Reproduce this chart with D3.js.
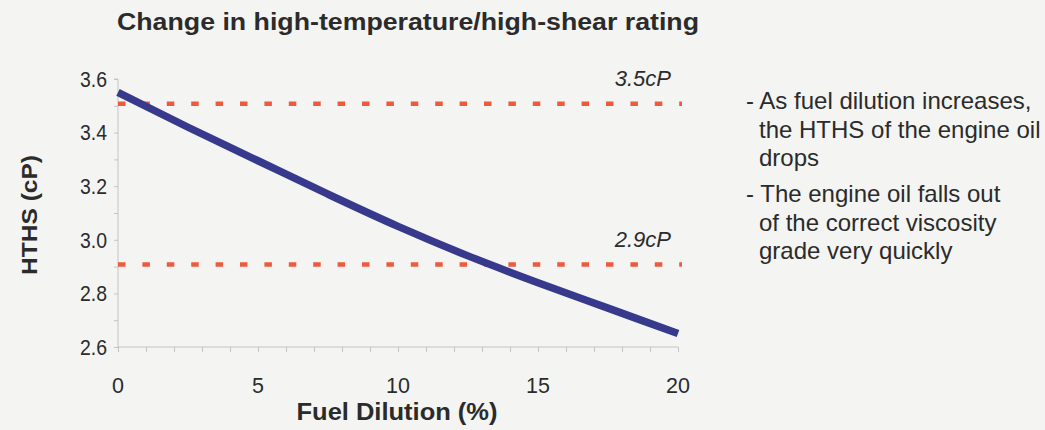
<!DOCTYPE html>
<html>
<head>
<meta charset="utf-8">
<script src="https://cdn.jsdelivr.net/npm/d3@7"></script>
<style>
  html, body { margin: 0; padding: 0; background: #f4f4f2; }
  svg { display: block; }
</style>
</head>
<body>
<svg id="chart" width="1045" height="430"></svg>
<script>
// ---- data ----
const dilution = [0, 2.5, 5, 7.5, 10, 12.5, 15, 17.5, 20];
const hths     = [3.55, 3.42, 3.295, 3.17, 3.05, 2.94, 2.84, 2.745, 2.65];
const limitValues = [3.5, 2.9];
const limitLabels = ["3.5cP", "2.9cP"];
const xTicks = [0, 5, 10, 15, 20];
const yTicks = [2.6, 2.8, 3.0, 3.2, 3.4, 3.6];
const title = "Change in high-temperature/high-shear rating";
const xLabel = "Fuel Dilution (%)";
const yLabel = "HTHS (cP)";
const notes = [
  ["- As fuel dilution increases,", "the HTHS of the engine oil", "drops"],
  ["- The engine oil falls out", "of the correct viscosity", "grade very quickly"]
];

// ---- layout ----
const svg = d3.select("#chart");
const mLeft = 118, mRight = 678, mTop = 79, mBottom = 347;
const x = d3.scaleLinear().domain([0, 20]).range([mLeft, mRight]);
const y = d3.scaleLinear().domain([2.6, 3.6]).range([mBottom, mTop]);
const font = "'Liberation Sans', Arial, Helvetica, sans-serif";
const axisColor = "#c4c4c4";
const textColor = "#2b2b2b";

// title
svg.append("text")
  .attr("x", 117).attr("y", 30)
  .attr("font-family", font).attr("font-weight", "bold").attr("font-size", 23.5)
  .attr("fill", textColor)
  .attr("textLength", 582).attr("lengthAdjust", "spacingAndGlyphs")
  .text(title);

// y axis (minor ticks every 0.1)
const yAxis = d3.axisLeft(y).tickValues(d3.range(2.6, 3.601, 0.1)).tickSize(4).tickFormat("");
const gy = svg.append("g").attr("transform", `translate(${mLeft},0)`).call(yAxis);
gy.selectAll("path, line").attr("stroke", axisColor).attr("stroke-width", 1);
gy.select("path").attr("d", `M-4,${mTop}H0V${mBottom}`);

// y tick labels
svg.append("g").selectAll("text").data(yTicks).join("text")
  .attr("x", 107).attr("y", d => y(d)).attr("dy", "0.36em")
  .attr("text-anchor", "end")
  .attr("font-family", font).attr("font-size", 21.5).attr("fill", textColor)
  .attr("textLength", 27).attr("lengthAdjust", "spacingAndGlyphs")
  .text(d => d.toFixed(1));

// x axis (minor ticks every 1)
const xAxis = d3.axisBottom(x).tickValues(d3.range(0, 21, 1)).tickSize(5).tickFormat("");
const gx = svg.append("g").attr("transform", `translate(0,${mBottom})`).call(xAxis);
gx.selectAll("path, line").attr("stroke", axisColor).attr("stroke-width", 1);
gx.select("path").attr("d", `M${mLeft},0H${mRight}`);

svg.append("g").selectAll("text").data(xTicks).join("text")
  .attr("x", d => x(d)).attr("y", 393)
  .attr("text-anchor", "middle")
  .attr("font-family", font).attr("font-size", 21.5).attr("fill", textColor)
  .text(d => d);

// axis labels
svg.append("text")
  .attr("x", 397).attr("y", 420)
  .attr("text-anchor", "middle")
  .attr("font-family", font).attr("font-weight", "bold").attr("font-size", 23)
  .attr("fill", textColor)
  .attr("textLength", 201).attr("lengthAdjust", "spacingAndGlyphs")
  .text(xLabel);

svg.append("text")
  .attr("transform", "translate(37,215) rotate(-90)")
  .attr("text-anchor", "middle")
  .attr("font-family", font).attr("font-weight", "bold").attr("font-size", 22.5)
  .attr("fill", textColor)
  .attr("textLength", 120).attr("lengthAdjust", "spacingAndGlyphs")
  .text(yLabel);

// limit lines
const limits = limitValues.map((v, i) => ({ v, label: limitLabels[i] }));
svg.append("g").selectAll("line").data(limits).join("line")
  .attr("x1", x(0)).attr("x2", x(20) + 4)
  .attr("y1", d => y(d.v) - 2).attr("y2", d => y(d.v) - 2)
  .attr("stroke", "#ee5a3e").attr("stroke-width", 4.5)
  .attr("stroke-dasharray", "7.5 16.9");

svg.append("g").selectAll("text").data(limits).join("text")
  .attr("x", 671).attr("y", d => y(d.v) - 20)
  .attr("text-anchor", "end")
  .attr("font-family", font).attr("font-style", "italic").attr("font-size", 22)
  .attr("fill", textColor)
  .text(d => d.label);

// main curve
const line = d3.line().x((d, i) => x(dilution[i])).y(d => y(d)).curve(d3.curveMonotoneX);
svg.append("path")
  .datum(hths)
  .attr("d", line)
  .attr("fill", "none")
  .attr("stroke", "#37398c")
  .attr("stroke-width", 7.5)
  .attr("stroke-linecap", "butt");

// notes
const noteStarts = [109, 202];
const lineGap = 28.5;
notes.forEach((group, gi) => {
  group.forEach((txt, li) => {
    svg.append("text")
      .attr("x", li === 0 ? 746 : 759)
      .attr("y", noteStarts[gi] + li * lineGap)
      .attr("font-family", font).attr("font-size", 24)
      .attr("fill", textColor)
      .attr("xml:space", "preserve")
      .text(txt);
  });
});
</script>
</body>
</html>
